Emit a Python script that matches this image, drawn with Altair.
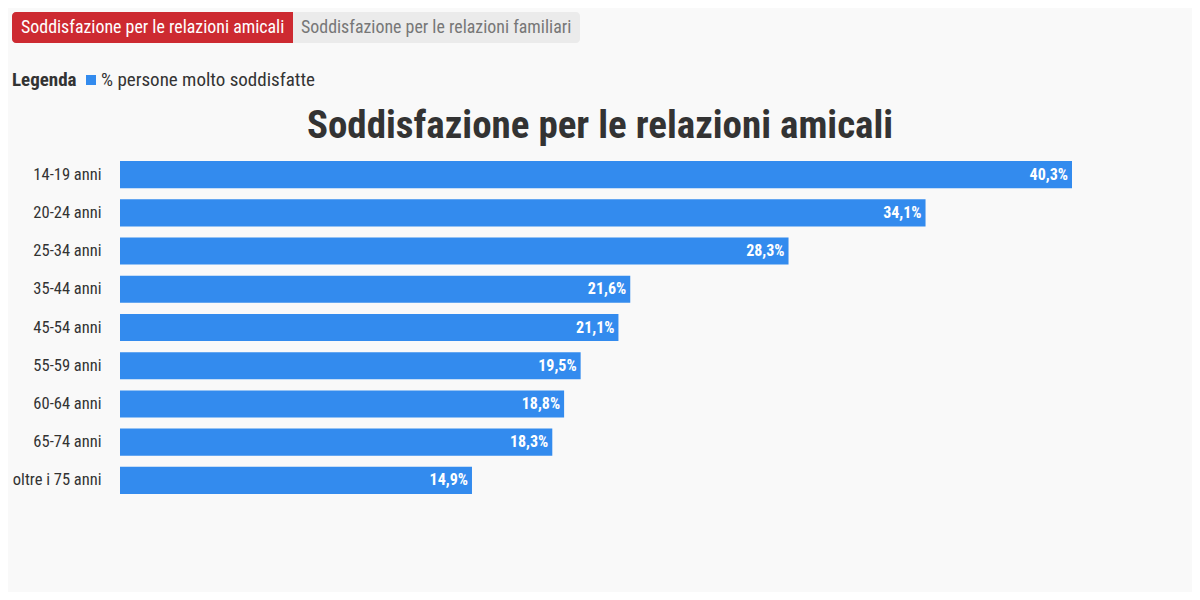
import altair as alt
import pandas as pd

categories = ["14-19 anni", "20-24 anni", "25-34 anni", "35-44 anni", "45-54 anni",
              "55-59 anni", "60-64 anni", "65-74 anni", "oltre i 75 anni"]
values = [40.3, 34.1, 28.3, 21.6, 21.1, 19.5, 18.8, 18.3, 14.9]
tabs = ["Soddisfazione per le relazioni amicali", "Soddisfazione per le relazioni familiari"]
legend_title = "Legenda"
series_name = "% persone molto soddisfatte"
title_text = "Soddisfazione per le relazioni amicali"

FONT = "Roboto Condensed, Liberation Sans Narrow, DejaVu Sans Condensed, Roboto, sans-serif"
BLUE = "#338bee"
RED = "#cd2a31"
BG = "#f9f9f9"

df = pd.DataFrame({"cat": categories, "val": values})
df["label"] = [f"{v:.1f}".replace(".", ",") + "%" for v in values]

# plot origin in page coords: x=120, y=161
OX, OY = 120, 161

y_enc = alt.Y("cat:N", sort=categories,
              scale=alt.Scale(paddingInner=0.29, paddingOuter=0),
              axis=alt.Axis(title=None, domain=False, ticks=False, grid=False,
                            labelFont=FONT, labelFontSize=16.5, labelColor="#333333",
                            labelPadding=19, labelLimit=200))
x_enc = alt.X("val:Q", scale=alt.Scale(domain=[0, 40.3], nice=False, zero=True), axis=None)

bars = alt.Chart(df).mark_bar(color=BLUE, cornerRadius=0).encode(x=x_enc, y=y_enc)
labels = alt.Chart(df).mark_text(align="right", baseline="middle", dx=-4, color="white",
                                  font=FONT, fontSize=16, fontWeight="bold").encode(
    x=x_enc, y=alt.Y("cat:N", sort=categories), text="label:N")

one = alt.Data(values=[{"a": 1}])

tab_bg = alt.Chart(one).mark_rect(color="#ebebeb", cornerRadius=4).encode(
    x=alt.value(12 - OX), x2=alt.value(580 - OX), y=alt.value(12 - OY), y2=alt.value(43 - OY))
tab_active = alt.Chart(one).mark_rect(color=RED, cornerRadiusTopLeft=4,
                                      cornerRadiusBottomLeft=4).encode(
    x=alt.value(12 - OX), x2=alt.value(293 - OX), y=alt.value(12 - OY), y2=alt.value(43 - OY))
tab_t1 = alt.Chart(one).mark_text(align="left", baseline="middle", color="white",
                                  font=FONT, fontSize=17.9).encode(
    x=alt.value(21 - OX), y=alt.value(28 - OY), text=alt.value(tabs[0]))
tab_t2 = alt.Chart(one).mark_text(align="left", baseline="middle", color="#777777",
                                  font=FONT, fontSize=17.9).encode(
    x=alt.value(301 - OX), y=alt.value(28 - OY), text=alt.value(tabs[1]))

leg_t = alt.Chart(one).mark_text(align="left", baseline="middle", color="#333333",
                                 font=FONT, fontSize=19, fontWeight="bold").encode(
    x=alt.value(12 - OX), y=alt.value(80 - OY), text=alt.value(legend_title))
leg_sq = alt.Chart(one).mark_rect(color=BLUE).encode(
    x=alt.value(86 - OX), x2=alt.value(96 - OX), y=alt.value(75 - OY), y2=alt.value(85 - OY))
leg_l = alt.Chart(one).mark_text(align="left", baseline="middle", color="#333333",
                                 font=FONT, fontSize=19).encode(
    x=alt.value(101 - OX), y=alt.value(80 - OY), text=alt.value(series_name))

title = alt.Chart(one).mark_text(align="center", baseline="middle", color="#333333",
                                 font=FONT, fontSize=39, fontWeight="bold").encode(
    x=alt.value(600 - OX), y=alt.value(126 - OY), text=alt.value(title_text))

chart = alt.layer(bars, labels, tab_bg, tab_active, tab_t1, tab_t2, leg_t, leg_sq, leg_l, title).properties(
    width=952, height=333,
    autosize=alt.AutoSizeParams(type="none"),
    padding={"left": OX - 8, "top": OY - 8, "right": 120, "bottom": 98},
    background=BG,
).configure_view(stroke=None)

chart.save("out.html", embed_options={"renderer": "svg", "actions": False})
